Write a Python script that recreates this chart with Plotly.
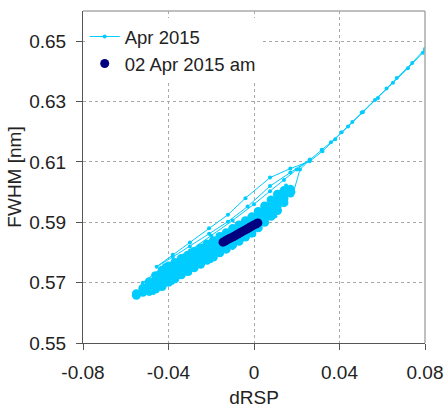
import plotly.graph_objects as go

# ---------------- data ----------------
x_ticks = [-0.08, -0.04, 0, 0.04, 0.08]
x_ticktext = ["-0.08", "-0.04", "0", "0.04", "0.08"]
y_ticks = [0.55, 0.57, 0.59, 0.61, 0.63, 0.65]
y_ticktext = ["0.55", "0.57", "0.59", "0.61", "0.63", "0.65"]

# Apr 2015 - trajectory (line + markers)
apr_x = [-0.0555, -0.0545, -0.0500, -0.0470, -0.0420, -0.0380, -0.0330, -0.0300,
         -0.0240, -0.0200, -0.0140, -0.0100, -0.0040, 0.0000, 0.0060, 0.0100,
         0.0150, 0.0185,
         0.0215, 0.0260, 0.0317, 0.0360, 0.0410, 0.0460, 0.0504, 0.0566, 0.0620,
         0.0668, 0.0740, 0.0800, 0.0825,
         0.0790, 0.0720, 0.0650, 0.0580, 0.0510, 0.0440, 0.0380, 0.0320, 0.0260,
         0.0170, 0.0075, -0.0040, -0.0122, -0.0210, -0.0300, -0.0380, -0.0455,
         -0.0380, -0.0300, -0.0210, -0.0122, -0.0030, 0.0075, 0.0170, 0.0262,
         0.0200, 0.0140, 0.0075, 0.0000, -0.0100, -0.0200, -0.0300, -0.0400,
         -0.0470, -0.0520]
apr_y = [0.5655, 0.5670, 0.5700, 0.5666, 0.5758, 0.5700, 0.5790, 0.5730,
         0.5822, 0.5772, 0.5862, 0.5815, 0.5905, 0.5858, 0.5958, 0.5920,
         0.6022, 0.6000,
         0.6075, 0.6106, 0.6140, 0.6165, 0.6198, 0.6232, 0.6264, 0.6305, 0.6343,
         0.6378, 0.6428, 0.6474, 0.6492,
         0.6462, 0.6410, 0.6362, 0.6312, 0.6265, 0.6217, 0.6175, 0.6135, 0.6102,
         0.6078, 0.6048, 0.5980, 0.5925, 0.5880, 0.5833, 0.5792, 0.5753,
         0.5785, 0.5820, 0.5862, 0.5902, 0.5952, 0.6020, 0.6065, 0.6108,
         0.6075, 0.6040, 0.6003, 0.5960, 0.5906, 0.5855, 0.5806, 0.5762,
         0.5728, 0.5700]

# Apr 2015 - dense cloud of points (four rows along the band)
cloud_x = [-0.055, -0.052, -0.049, -0.046, -0.043, -0.040, -0.037, -0.034, -0.031,
           -0.028, -0.025, -0.022, -0.019, -0.016, -0.013, -0.010, -0.007, -0.004,
           -0.001, 0.002, 0.005, 0.008, 0.011, 0.014, 0.017]
cloud_r1 = [0.5663, 0.5681, 0.5703, 0.5723, 0.5741, 0.5755, 0.5767, 0.5780, 0.5791,
            0.5803, 0.5815, 0.5828, 0.5839, 0.5853, 0.5865, 0.5879, 0.5891, 0.5905,
            0.5918, 0.5936, 0.5954, 0.5974, 0.5993, 0.6005, 0.6009]
cloud_r2 = [None, None, 0.5693, 0.5709, 0.5724, 0.5738, 0.5750, 0.5763, 0.5774,
            0.5786, 0.5798, 0.5811, 0.5822, 0.5836, 0.5848, 0.5862, 0.5874, 0.5888,
            0.5901, 0.5919, 0.5937, 0.5957, 0.5976, 0.5992, None]
cloud_r3 = [None, None, 0.5681, 0.5693, 0.5704, 0.5718, 0.5730, 0.5743, 0.5754,
            0.5766, 0.5778, 0.5791, 0.5802, 0.5816, 0.5828, 0.5842, 0.5854, 0.5868,
            0.5881, 0.5899, 0.5917, 0.5937, 0.5956, 0.5978, None]
cloud_r4 = [0.5658, 0.5668, 0.5671, 0.5679, 0.5687, 0.5701, 0.5713, 0.5726, 0.5737,
            0.5749, 0.5761, 0.5774, 0.5785, 0.5799, 0.5811, 0.5825, 0.5837, 0.5851,
            0.5864, 0.5882, 0.5900, 0.5920, 0.5939, 0.5965, 0.5997]

# 02 Apr 2015 am
am_x = [-0.0145, -0.0135, -0.0125, -0.0115, -0.0105, -0.0095, -0.0085, -0.0075,
        -0.0065, -0.0055, -0.0045, -0.0035, -0.0025, -0.0015, -0.0005, 0.0005,
        0.0012, 0.0018]
am_y = [0.5834, 0.5838, 0.5842, 0.5846, 0.5849, 0.5853, 0.5857, 0.5861,
        0.5865, 0.5869, 0.5873, 0.5877, 0.5881, 0.5885, 0.5889, 0.5893,
        0.5895, 0.5898]

LIGHT = "#00CCFF"
NAVY = "#000080"
FONT = "Liberation Sans, Arial, sans-serif"

# ---------------- figure ----------------
cx, cy = [], []
for i, xv in enumerate(cloud_x):
    for row in (cloud_r1, cloud_r2, cloud_r3, cloud_r4):
        if row[i] is not None:
            cx.append(xv)
            cy.append(row[i])

fig = go.Figure()
fig.add_trace(go.Scatter(x=cx, y=cy, mode="markers", showlegend=False,
                         legendgroup="apr", hoverinfo="skip",
                         marker=dict(color=LIGHT, size=9, line=dict(width=0))))
fig.add_trace(go.Scatter(x=apr_x, y=apr_y, mode="lines+markers", name="Apr 2015",
                         legendgroup="apr",
                         line=dict(color=LIGHT, width=1),
                         marker=dict(color=LIGHT, size=4, line=dict(width=0))))
fig.add_trace(go.Scatter(x=am_x, y=am_y, mode="markers", name="02 Apr 2015 am",
                         marker=dict(color=NAVY, size=9, line=dict(width=0))))

axis_common = dict(
    showgrid=True, gridcolor="#A8A8A8", griddash="dot", gridwidth=1,
    showline=True, linecolor="#555555", linewidth=1,
    ticks="outside", ticklen=6, tickcolor="#555555",
    zeroline=False, automargin=False,
    tickfont=dict(size=19, color="#222222", family=FONT),
)

fig.update_layout(
    width=445, height=409,
    margin=dict(l=83, r=20, t=11, b=66),
    plot_bgcolor="white", paper_bgcolor="white",
    font=dict(family=FONT, size=19, color="#222222"),
    xaxis=dict(range=[-0.08, 0.08], tickvals=x_ticks, ticktext=x_ticktext,
               ticklabelstandoff=6,
               title=dict(text="dRSP", standoff=8, font=dict(size=19)), **axis_common),
    yaxis=dict(range=[0.55, 0.66], tickvals=y_ticks, ticktext=y_ticktext,
               ticklabelstandoff=6,
               title=dict(text="FWHM [nm]", standoff=2, font=dict(size=19)), **axis_common),
    legend=dict(x=0.005, y=0.979, xanchor="left", yanchor="top",
                bgcolor="white", borderwidth=0,
                font=dict(size=18.5, color="#222222"),
                tracegroupgap=0, itemsizing="trace"),
    shapes=[
        dict(type="line", xref="x domain", yref="y domain", x0=0, x1=1, y0=1, y1=1,
             line=dict(color="#AAAAAA", width=1.5), layer="above"),
        dict(type="line", xref="x domain", yref="y domain", x0=1, x1=1, y0=0, y1=1,
             line=dict(color="#AAAAAA", width=1.5), layer="above"),
    ],
)

fig.write_html("out.html")
